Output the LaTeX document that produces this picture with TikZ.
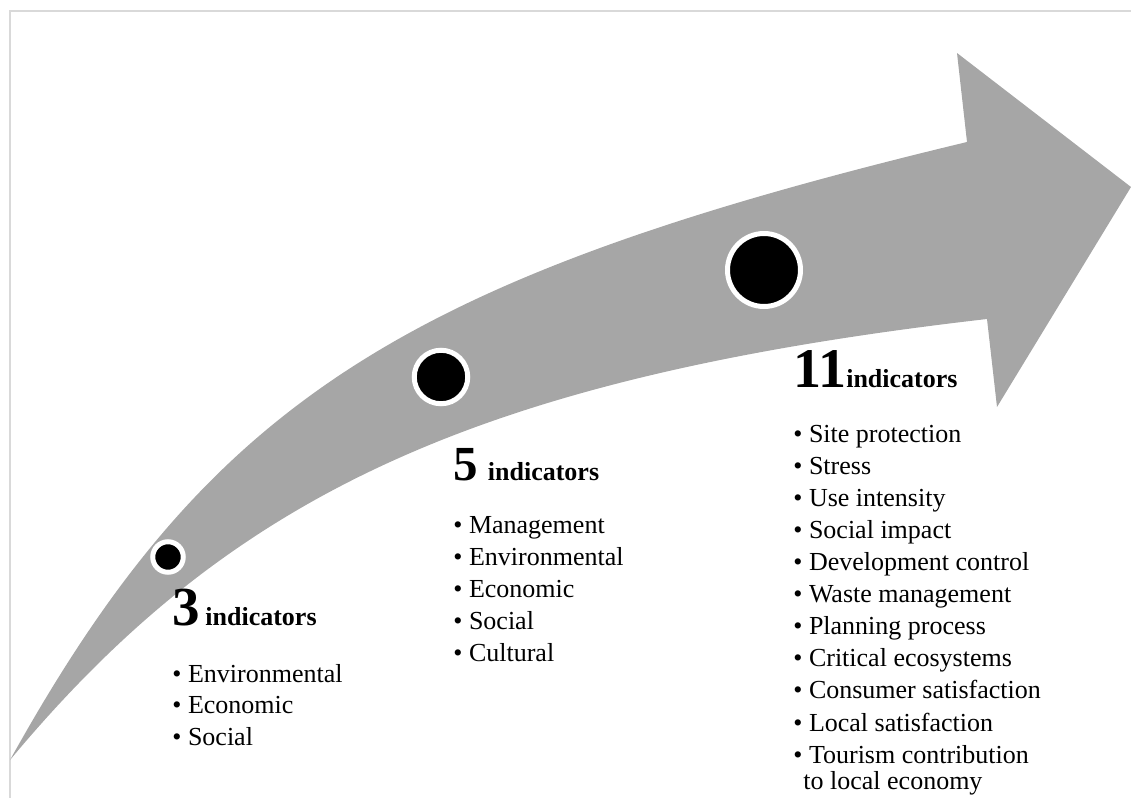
\documentclass[tikz,border=0pt]{standalone}
\usepackage{fontspec}
\setmainfont{Liberation Serif}
\usetikzlibrary{positioning}
\definecolor{arrowgray}{RGB}{166,166,166}
\definecolor{framegray}{RGB}{217,217,217}

\begin{document}
\begin{tikzpicture}[x=0.5pt, y=-0.5pt,
  stage/.style={circle, fill=black, draw=white, line width=2.5pt, inner sep=0pt},
  head/.style={anchor=base west, inner sep=0pt, font=\bfseries\fontsize{13}{16}\selectfont},
  item/.style={anchor=base west, inner sep=0pt, font=\fontsize{13}{16}\selectfont}]
  \useasboundingbox (0,0) rectangle (1131,798);
  \draw[framegray, line width=1pt] (1131,11) -- (10,11) -- (10,798);

  % curved arrow
  \fill[arrowgray] (10,760) .. controls (209,402) and (401,278) .. (967,142)
    -- (957,53) -- (1131,187) -- (997,407) -- (987,319)
    .. controls (474,378) and (230,496) .. (10,760) -- cycle;

  % stages
  \node[stage, minimum size=15.25pt] (s3) at (168,557) {};
  \node[stage, minimum size=26.75pt] (s5) at (441,377) {};
  \node[stage, minimum size=36.5pt] (s11) at (764,270) {};

  \node[head] (h3) at (172,625) {{\bfseries\fontsize{27.5}{28}\selectfont 3}\hspace{2.75pt}indicators};
  \node[head] (h5) at (453,480) {{\bfseries\fontsize{24.5}{25}\selectfont 5}\hspace{5pt}indicators};
  \node[head] (h11) at (793,387) {{\bfseries\fontsize{28}{28}\selectfont 11}indicators};

  \foreach \txt [count=\i] in {Environmental, Economic, Social}
    \node[item] (l3-\i) at (172, 650.5+31.5*\i) {\textbullet\ \txt};
  \foreach \txt [count=\i] in {Management, Environmental, Economic, Social, Cultural}
    \node[item] (l5-\i) at (453, 501+32*\i) {\textbullet\ \txt};
  \foreach \txt [count=\i] in {Site protection, Stress, Use intensity, Social impact, Development control, Waste management, Planning process, Critical ecosystems, Consumer satisfaction, Local satisfaction, Tourism contribution}
    \node[item] (l11-\i) at (793, 410+32.1*\i) {\textbullet\ \txt};
  \node[item] (l11-12) at ([xshift=5pt, yshift=-13pt]l11-11.base west) {to local economy};
\end{tikzpicture}
\end{document}
